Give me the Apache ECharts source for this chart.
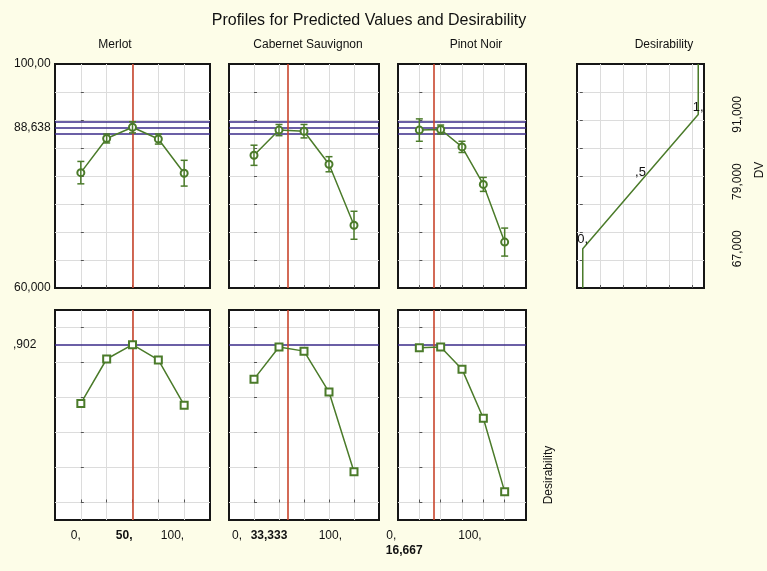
<!DOCTYPE html>
<html>
<head>
<meta charset="utf-8">
<script src="https://cdn.jsdelivr.net/npm/echarts@6/dist/echarts.min.js"></script>
<style>
html,body{margin:0;padding:0;background:#fdfde8;}
#c{width:767px;height:571px;}
</style>
</head>
<body>
<div id="c"></div>
<script>
// ---------- data ----------
const factorNames = ['Merlot', 'Cabernet Sauvignon', 'Pinot Noir'];
const xLevels = [0, 25, 50, 75, 100];
const xGridTicks = [0, 25, 50, 75, 100];
const xEndLabels = ['0,', '100,'];
const optimum = [50, 33.333, 16.667];
const optimumLabels = ['50,', '33,333', '16,667'];

const merlotDV = [80.6, 86.7, 88.7, 86.6, 80.5];
const merlotErr = [2.0, 0.8, 1.0, 0.9, 2.3];
const cabernetDV = [83.7, 88.2, 88.0, 82.1, 71.2];
const cabernetErr = [1.8, 1.0, 1.2, 1.35, 2.5];
const pinotDV = [88.2, 88.3, 85.2, 78.5, 68.2];
const pinotErr = [2.0, 0.8, 1.0, 1.25, 2.5];

const merlotD = [0.566, 0.82, 0.902, 0.815, 0.556];
const cabernetD = [0.705, 0.889, 0.865, 0.631, 0.176];
const pinotD = [0.884, 0.889, 0.762, 0.481, 0.062];

const predictedDV = 88.638;
const dvConfidence = [87.55, 89.75];
const overallD = 0.902;

const dvGridTicks = [65, 70, 75, 80, 85, 90, 95];
const dvTickValues = [60, 88.638, 100];
const dvTickLabels = ['60,000', '88,638', '100,00'];
const dGridTicks = [0, 0.2, 0.4, 0.6, 0.8, 1.0];
const dTickValues = [0.902];
const dTickLabels = [',902'];

const desirGridTicks = [0.15, 0.35, 0.55, 0.75, 0.95];
const desirCurveDV = [60, 67, 79, 91, 100];
const desirCurveD = [0, 0, 0.5, 1, 1];
const desirPointLabels = ['', '0,', ',5', '1,', ''];
const desirAxisValues = [67, 79, 91];
const desirAxisLabels = ['67,000', '79,000', '91,000'];

// ---------- style ----------
const FONT = '"Liberation Sans", Arial, sans-serif';
const GREEN = '#4b7b2a';
const RED = '#c8452c';
const BLUE = '#3a2a88';
const GRIDC = '#dcdcdc';

const topDV = [merlotDV, cabernetDV, pinotDV];
const topErr = [merlotErr, cabernetErr, pinotErr];
const botD = [merlotD, cabernetD, pinotD];
const panelX = [{left: 55, width: 155}, {left: 229, width: 150}, {left: 398, width: 128}];
// horizontal label shift (px, to the left of the tick) for end labels and optimum label
const labelShift = [[0, 0], [12, 0], [23, 11]];

const grids = [], xAxes = [], yAxes = [], series = [], extraX = [];

function baseGrid(left, top, width, height) {
  return {left, top, width, height, show: true, backgroundColor: '#ffffff',
    borderColor: '#161616', borderWidth: 2, containLabel: false};
}

function tickCfg(vals) {
  return {show: true, inside: true, length: 3, lineStyle: {color: '#555'}, customValues: vals};
}

function valueXAxis(gi, showLabels, p) {
  const ax = {
    type: 'value', gridIndex: gi, min: -25, max: 125, interval: 25,
    axisLine: {show: false},
    axisTick: tickCfg(xGridTicks),
    splitLine: {show: true, lineStyle: {color: GRIDC, width: 1}},
    axisLabel: {show: false}
  };
  if (showLabels) {
    const sh = labelShift[p];
    ax.axisLabel = {
      show: true, customValues: [0, 100], margin: 8,
      showMinLabel: true, showMaxLabel: true,
      align: 'right', fontFamily: FONT, fontSize: 12, color: '#111', lineHeight: 15,
      formatter: v => '{n|' + (v === 0 ? xEndLabels[0] : xEndLabels[1]) + '}',
      rich: {n: {fontFamily: FONT, fontSize: 12, color: '#111', padding: [0, sh[0], 0, 0], lineHeight: 15}}
    };
    // separate label-only axis for the bold optimum value
    extraX.push({
      type: 'value', gridIndex: gi, min: -25, max: 125, interval: 25, position: 'bottom',
      axisLine: {show: false}, axisTick: {show: false}, splitLine: {show: false},
      axisLabel: {
        show: true, customValues: [optimum[p]], margin: 8 + (p === 2 ? 15 : 0),
        showMinLabel: true, showMaxLabel: true,
        align: 'right', fontFamily: FONT, fontSize: 12, fontWeight: 'bold', color: '#111', lineHeight: 15,
        formatter: () => '{b|' + optimumLabels[p] + '}',
        rich: {b: {fontFamily: FONT, fontSize: 12, fontWeight: 'bold', color: '#111', padding: [0, sh[1], 0, 0], lineHeight: 15}}
      }
    });
  }
  return ax;
}

// top row: DV profiles
for (let p = 0; p < 3; p++) {
  const gi = grids.length;
  grids.push(baseGrid(panelX[p].left, 64, panelX[p].width, 224));
  xAxes.push(valueXAxis(gi, false, p));
  yAxes.push({
    type: 'value', gridIndex: gi, min: 60, max: 100, interval: 5,
    axisLine: {show: false},
    axisTick: tickCfg(dvGridTicks),
    splitLine: {show: true, lineStyle: {color: GRIDC, width: 1}},
    axisLabel: p === 0 ? {
      show: true, customValues: dvTickValues, align: 'left', margin: 41,
      showMinLabel: true, showMaxLabel: true,
      fontFamily: FONT, fontSize: 12, color: '#111',
      formatter: v => dvTickLabels[dvTickValues.findIndex(t => Math.abs(t - v) < 1e-6)] || ''
    } : {show: false}
  });
  series.push({
    type: 'line', xAxisIndex: gi, yAxisIndex: gi,
    data: xLevels.map((x, i) => [x, topDV[p][i]]),
    symbol: 'emptyCircle', symbolSize: 7,
    lineStyle: {color: GREEN, width: 1.5},
    itemStyle: {color: GREEN, borderWidth: 1.5},
    silent: true, z: 5,
    markLine: {
      silent: true, symbol: 'none', label: {show: false}, animation: false,
      data: [
        {yAxis: dvConfidence[0], lineStyle: {color: BLUE, width: 1.6, type: 'solid'}},
        {yAxis: predictedDV, lineStyle: {color: BLUE, width: 1.6, type: 'solid'}},
        {yAxis: dvConfidence[1], lineStyle: {color: BLUE, width: 1.6, type: 'solid'}},
        {xAxis: optimum[p], lineStyle: {color: RED, width: 1.6, type: 'solid'}}
      ]
    }
  });
  series.push({
    type: 'custom', xAxisIndex: gi, yAxisIndex: gi, silent: true, z: 6,
    data: xLevels.map((x, i) => [x, topDV[p][i] - topErr[p][i], topDV[p][i] + topErr[p][i]]),
    encode: {x: 0, y: [1, 2]},
    renderItem: function (params, api) {
      const x = api.value(0);
      const lo = api.coord([x, api.value(1)]);
      const hi = api.coord([x, api.value(2)]);
      const w = 3.5;
      const st = {stroke: GREEN, lineWidth: 1.5};
      return {type: 'group', children: [
        {type: 'line', shape: {x1: hi[0], y1: hi[1], x2: lo[0], y2: lo[1]}, style: st},
        {type: 'line', shape: {x1: hi[0] - w, y1: hi[1], x2: hi[0] + w, y2: hi[1]}, style: st},
        {type: 'line', shape: {x1: lo[0] - w, y1: lo[1], x2: lo[0] + w, y2: lo[1]}, style: st}
      ]};
    }
  });
}

// desirability function panel
{
  const gi = grids.length;
  grids.push(baseGrid(577, 64, 127, 224));
  xAxes.push({
    type: 'value', gridIndex: gi, min: -0.05, max: 1.05, interval: 0.2,
    axisLine: {show: false},
    axisTick: tickCfg(desirGridTicks),
    splitLine: {show: true, lineStyle: {color: GRIDC, width: 1}},
    axisLabel: {show: false}
  });
  yAxes.push({
    type: 'value', gridIndex: gi, min: 60, max: 100, interval: 5, position: 'right',
    axisLine: {show: false},
    axisTick: tickCfg(dvGridTicks),
    splitLine: {show: true, lineStyle: {color: GRIDC, width: 1}},
    axisLabel: {
      show: true, customValues: desirAxisValues, rotate: 90, margin: 28,
      fontFamily: FONT, fontSize: 12, color: '#111',
      formatter: v => desirAxisLabels[desirAxisValues.findIndex(t => Math.abs(t - v) < 1e-6)] || ''
    },
    name: 'DV', nameLocation: 'middle', nameGap: 50, nameRotate: 90,
    nameTextStyle: {fontFamily: FONT, fontSize: 12, color: '#111', padding: [0, 0, 0, 12]}
  });
  series.push({
    type: 'line', xAxisIndex: gi, yAxisIndex: gi, silent: true, z: 5,
    data: desirCurveD.map((d, i) => ({
      value: [d, desirCurveDV[i]],
      label: {show: desirPointLabels[i] !== '', formatter: desirPointLabels[i], position: 'top',
        distance: i === 3 ? 0 : 2,
        fontFamily: FONT, fontSize: 13, color: '#111'}
    })),
    symbol: 'circle', symbolSize: 1, showSymbol: true,
    itemStyle: {color: 'rgba(0,0,0,0)'},
    lineStyle: {color: GREEN, width: 1.5}
  });
}

// bottom row: desirability profiles
for (let p = 0; p < 3; p++) {
  const gi = grids.length;
  grids.push(baseGrid(panelX[p].left, 310, panelX[p].width, 210));
  xAxes.push(valueXAxis(gi, true, p));
  yAxes.push({
    type: 'value', gridIndex: gi, min: -0.1, max: 1.1,
    axisLine: {show: false},
    axisTick: tickCfg(dGridTicks),
    splitLine: {show: true, lineStyle: {color: GRIDC, width: 1}},
    axisLabel: p === 0 ? {
      show: true, customValues: dTickValues, align: 'left', margin: 42,
      fontFamily: FONT, fontSize: 12, color: '#111',
      formatter: v => dTickLabels[dTickValues.findIndex(t => Math.abs(t - v) < 1e-6)] || ''
    } : {show: false}
  });
  series.push({
    type: 'line', xAxisIndex: gi, yAxisIndex: gi, silent: true, z: 5,
    data: xLevels.map((x, i) => [x, botD[p][i]]),
    symbol: 'emptyRect', symbolSize: 7,
    lineStyle: {color: GREEN, width: 1.5},
    itemStyle: {color: GREEN, borderWidth: 1.5},
    markLine: {
      silent: true, symbol: 'none', label: {show: false}, animation: false,
      data: [
        {yAxis: overallD, lineStyle: {color: BLUE, width: 1.6, type: 'solid'}},
        {xAxis: optimum[p], lineStyle: {color: RED, width: 1.6, type: 'solid'}}
      ]
    }
  });
}

const texts = [
  {text: 'Profiles for Predicted Values and Desirability', x: 369, y: 21, size: 16},
  {text: factorNames[0], x: 115, y: 45, size: 12},
  {text: factorNames[1], x: 308, y: 45, size: 12},
  {text: factorNames[2], x: 476, y: 45, size: 12},
  {text: 'Desirability', x: 664, y: 45, size: 12}
];
const graphic = texts.map(t => ({
  type: 'text', x: t.x, y: t.y, silent: true,
  style: {text: t.text, fontFamily: FONT, fontSize: t.size, fill: '#111', align: 'center', verticalAlign: 'middle'}
}));
graphic.push({
  type: 'text', x: 549, y: 475, rotation: Math.PI / 2, silent: true,
  style: {text: 'Desirability', fontFamily: FONT, fontSize: 12, fill: '#111', align: 'center', verticalAlign: 'middle'}
});

const chart = echarts.init(document.getElementById('c'), null, {renderer: 'canvas'});
chart.setOption({
  backgroundColor: '#fdfde8',
  animation: false,
  textStyle: {fontFamily: FONT},
  grid: grids,
  xAxis: xAxes.concat(extraX),
  yAxis: yAxes,
  series: series,
  graphic: graphic
});
</script>
</body>
</html>
